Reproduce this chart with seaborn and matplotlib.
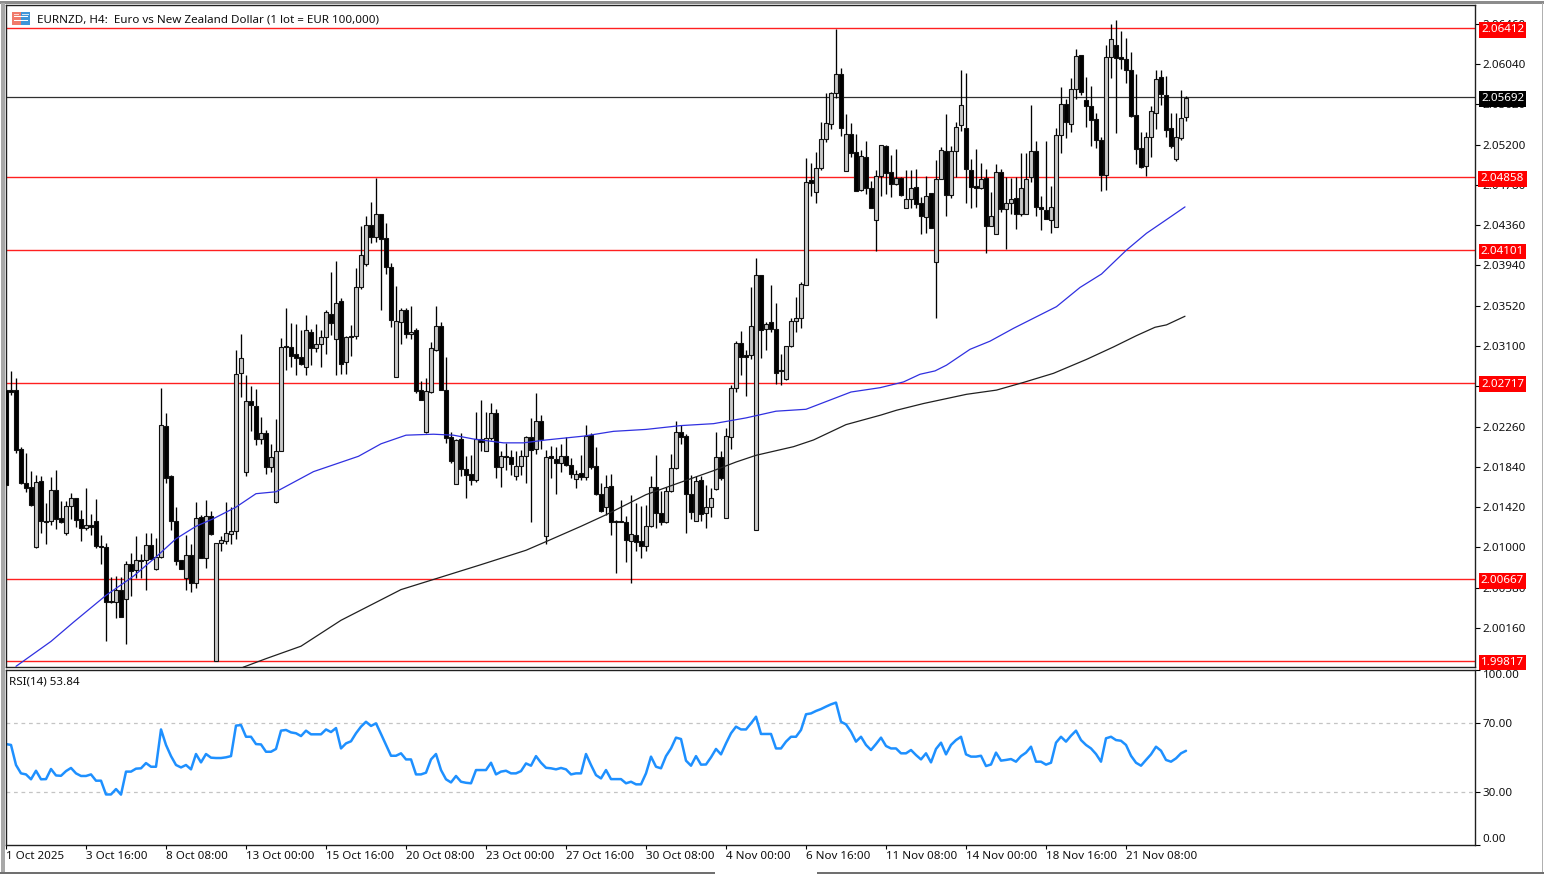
import matplotlib
matplotlib.use('Agg')
import matplotlib.pyplot as plt
from matplotlib.patches import Rectangle
from matplotlib.transforms import ScaledTranslation, blended_transform_factory
import numpy as np
import pandas as pd
import seaborn as sns

# candle values are in pips above 2.00000, one entry per H4 bar
opens = [264,264,264,203,167,163,100,169,127,127,160,131,115,143,151,130,120,123,127,101,100,44,43,56,46,83,76,87,87,102,77,90,
 227,174,127,87,68,92,63,132,89,133,-18,105,107,114,117,282,179,253,247,213,219,184,147,201,310,309,302,298,288,325,308,312,
 319,343,317,357,293,320,320,372,395,436,424,448,423,392,278,335,348,322,327,264,220,262,306,331,264,215,166,213,182,177,170,213,
 201,214,240,184,195,194,174,185,195,215,203,232,112,195,192,188,195,186,171,178,173,217,185,156,142,164,127,127,126,107,113,107,
 101,122,163,136,126,159,183,220,216,156,128,170,136,142,161,194,131,215,266,313,301,301,118,384,328,335,328,285,276,310,336,339,
 374,483,471,496,526,541,574,594,492,531,512,473,507,475,441,487,518,491,479,485,454,463,476,459,444,469,398,484,513,467,513,540,
 537,493,477,475,485,435,427,491,453,459,464,448,448,486,513,455,452,441,434,530,562,541,578,613,566,560,547,525,488,611,624,611,
 609,598,551,516,498,528,553,590,572,537,505,527,549]
highs = [264,284,277,205,198,180,176,174,146,173,181,148,148,157,152,139,162,135,150,113,105,69,70,69,86,94,112,93,115,115,110,266,
 240,175,142,87,113,104,147,134,149,138,105,112,147,142,306,323,280,268,265,236,222,208,234,318,350,334,333,327,342,328,333,327,
 347,387,399,360,320,332,391,435,445,460,485,448,438,397,373,350,350,352,329,274,277,314,352,335,298,220,213,219,195,196,241,254,
 241,251,244,200,209,202,200,202,216,235,261,238,202,206,205,208,215,193,181,196,228,219,205,167,175,177,129,149,133,155,146,143,
 144,174,196,159,163,197,232,228,218,175,174,174,165,162,220,200,225,269,315,326,306,371,402,384,335,374,355,302,310,339,361,377,
 506,501,512,543,574,575,640,600,552,542,531,514,524,482,493,520,520,509,515,486,493,493,495,465,487,470,504,517,552,518,544,598,
 595,505,515,501,495,471,500,495,486,485,486,511,511,561,524,466,524,477,537,580,568,589,620,613,590,581,553,528,624,646,650,638,
 631,617,594,533,533,560,598,598,591,553,553,577,571]
lows = [165,259,198,166,158,143,99,115,104,123,119,125,113,130,121,107,118,113,99,83,2,42,26,27,-1,49,68,68,56,88,76,89,
 167,118,82,77,56,53,58,89,78,113,-18,96,104,104,109,257,174,221,207,208,177,179,146,200,285,288,280,290,280,290,304,288,
 302,321,280,281,281,300,317,369,393,417,418,348,385,330,278,312,318,317,261,254,219,261,305,264,209,188,166,174,151,165,168,201,
 201,212,172,163,181,176,170,175,167,126,197,203,104,172,156,179,185,172,162,170,170,182,155,137,134,113,73,126,85,63,96,89,
 96,121,120,123,125,158,182,208,115,130,127,127,120,132,160,170,131,203,262,280,258,296,118,297,306,325,270,269,275,309,325,329,
 374,466,459,493,523,536,569,529,492,507,472,472,468,454,409,466,468,465,478,466,454,454,454,427,428,433,339,484,446,464,486,534,
 459,454,455,474,407,435,427,450,411,448,432,445,448,481,446,431,442,428,434,511,527,533,567,572,538,518,516,472,473,589,532,599,
 584,549,500,496,487,507,536,561,528,516,503,525,545]
closes = [165,262,202,167,162,144,168,127,126,160,130,126,143,152,129,120,123,121,101,100,43,43,56,27,83,75,87,86,102,88,90,228,
 172,127,86,77,92,63,131,89,133,114,105,108,115,117,281,297,253,248,213,219,184,194,201,309,309,300,297,291,327,308,312,319,
 345,334,355,291,319,319,372,405,436,424,448,422,392,337,336,347,322,325,263,254,263,308,331,264,214,190,212,182,176,170,213,210,
 214,240,184,195,194,187,185,195,215,202,232,213,194,193,188,195,186,177,177,173,216,184,156,138,163,126,126,126,108,114,106,101,
 122,163,136,126,159,183,220,215,156,137,169,135,142,152,194,172,216,266,313,299,299,331,384,327,333,328,282,284,310,336,339,375,
 481,480,496,526,542,574,594,537,531,511,472,508,475,454,487,520,490,479,485,467,463,475,458,445,466,433,484,514,467,513,538,561,
 494,476,475,484,435,445,491,453,459,463,448,475,484,513,455,453,442,455,530,562,543,578,612,575,560,546,525,488,611,630,610,609,
 598,550,515,497,528,555,588,573,535,518,528,548,569]

ma_blue_bars = [2,9,13.5,20,25.5,30,34,38,41.5,46,50,54,59,61.5,70.5,75,80,85.5,89.5,93.5,99.5,103.5,108,115.5,121.5,128,135,141.5,148,154,160,165,169,174.8,179.5,182.8,185.8,188.1,192.8,196.8,201.5,210.1,214.8,219.1,224.1,228.1,231.5,235.8]
ma_blue = [-24,2,22,50,70,90,109,122,130,142,156,158,172,179,195,208,217,218,217,213,209,209,212,216,221,223,227,229,235,242,244,254,262,266.5,272.5,280.5,284,290,306.5,315,328.4,351,371,385,410,427.5,439.6,455]
ma_black_bars = [47.4,52,59,67,79,87,95,104,108,115,120,128,135,141.5,146,150,157.5,161.5,168,175,178.1,183.5,192.1,198.1,203.5,209.5,216.1,221.5,226.1,229.8,232.1,235.8]
ma_black = [-25,-16,-3,24,56,69,82,97,106,122,134,155,168,180,189,196,205,212,228,238,243,250,259.6,264,272,281.5,296,309,320.8,329.5,332,341]

rsi = [57.7,57.2,45.7,40.9,40.3,37.5,42.4,37.5,37.6,43.4,39.7,39.5,42.2,44,40.9,39.4,39.4,40.3,36.7,36.7,28.8,28.8,31.9,28.7,41.9,41.9,43.6,43.8,46.8,44.7,44.7,66.1,
 57.2,50.8,45.7,44.3,45.7,43.2,52,47.2,52,49.9,49.7,49.7,50.1,50.8,68.3,68.6,61.9,61.9,57.7,57.5,53.3,53.3,54.9,65.4,65.8,64.4,63.9,62.3,65.4,63.3,63.3,63.3,
 66.1,64.6,66.9,55.2,58.1,59.3,63.9,67.7,70.5,68.1,69.6,63.5,57.2,51,51,52.4,48.9,48.9,40.3,40.3,41.3,48.9,52,42.8,37.5,35.7,39.4,36.1,35.5,35.2,42.8,42.8,
 42.8,47,40.3,41.9,42.4,40.9,40.9,42.2,46.6,45.3,50.8,47,44.1,43.8,43.2,44,43.2,40.3,40.9,40.9,52,45.7,39.9,38,42.8,37.6,37.6,37.6,35.2,36.1,34.6,34.6,
 40.9,50.5,44.7,43.8,50.8,55.2,61.4,60.6,48.2,45.3,50.8,45.9,46,50.1,54.9,51.8,58.1,63.9,67.7,66.1,66.1,69.6,73.4,63.5,63.5,63.5,55.2,55.2,59.1,61.9,61.9,65.8,
 74.8,75.3,76.7,77.8,79.2,80.5,81.5,70.5,69,64.8,59.1,61.9,57.2,54.3,57.7,61.4,56.6,55.2,55.2,52.4,52.4,54.3,51.4,48.9,52.4,47.2,54.9,58.5,51.8,57.2,60,61.9,
 51.8,50.5,50.5,51,45.1,46,52.8,48.2,48.6,49.1,47.6,50.8,52.8,56.2,47.6,47.6,45.9,47,58.5,61.9,59.1,62.5,65.4,60,57.2,55.2,52,47.6,61,61.9,60,59.6,
 57.2,51,47,45.3,48.6,51.8,56.2,53.9,48.6,47.6,49.5,52.4,53.84]

red_levels = [2.06412, 2.04858, 2.04101, 2.02717, 2.00667, 1.99817]
last_price = 2.05692
price_ticks = [2.06460, 2.06040, 2.05620, 2.05200, 2.04780, 2.04360, 2.03940, 2.03520, 2.03100,
               2.02680, 2.02260, 2.01840, 2.01420, 2.01000, 2.00580, 2.00160]
rsi_ticks = [0, 30, 70, 100]
date_labels = ['1 Oct 2025', '3 Oct 16:00', '8 Oct 08:00', '13 Oct 00:00', '15 Oct 16:00', '20 Oct 08:00',
               '23 Oct 00:00', '27 Oct 16:00', '30 Oct 08:00', '4 Nov 00:00', '6 Nov 16:00', '11 Nov 08:00',
               '14 Nov 00:00', '18 Nov 16:00', '21 Nov 08:00']
title = 'EURNZD, H4:  Euro vs New Zealand Dollar (1 lot = EUR 100,000)'

sns.set_style('white')
plt.rcParams['font.family'] = ['Noto Sans', 'DejaVu Sans']
FS = 8.35
W, H = 1544, 874


def to_price(pips):
    return 2.0 + np.array(pips, dtype=float) / 10000


candles = pd.DataFrame({'open': to_price(opens), 'high': to_price(highs), 'low': to_price(lows), 'close': to_price(closes)})
candles['bar'] = candles.index
candles['up'] = candles['close'] >= candles['open']

fig = plt.figure(figsize=(W / 100, H / 100), dpi=100, facecolor='white')
ax = fig.add_axes([6 / W, 1 - 667 / H, (1475 - 6) / W, (667 - 5) / H])
ax_rsi = fig.add_axes([6 / W, 1 - 845 / H, (1475 - 6) / W, (845 - 670) / H])

# horizontal levels first, candles go on top
for lvl in red_levels:
    ax.axhline(lvl, color='#ff2020', lw=1.0, zorder=1)
ax.axhline(last_price, color='#303030', lw=0.9, zorder=1)

# candles
ax.vlines(candles['bar'], candles['low'], candles['high'], color='black', lw=0.95, zorder=3)
body_bottom = candles[['open', 'close']].min(axis=1)
body_height = (candles['close'] - candles['open']).abs()
colors = ['#c8c8c8' if u else 'black' for u in candles['up']]
ax.bar(candles['bar'], body_height, bottom=body_bottom, width=0.66, color=colors, edgecolor='#101010', linewidth=0.8, zorder=4)

# moving averages
sns.lineplot(x=ma_blue_bars, y=to_price(ma_blue), ax=ax, color='#3030e0', linewidth=0.9, zorder=5, estimator=None)
sns.lineplot(x=ma_black_bars, y=to_price(ma_black), ax=ax, color='#202020', linewidth=0.9, zorder=5, estimator=None)

ax.set_xlim(0, (1475 - 6) / 5)
ax.set_ylim(2.0 - 24.7 / 10000, 2.0 + 665.5 / 10000)
ax.set_xticks([])
ax.yaxis.tick_right()
ax.set_yticks(price_ticks)
ax.set_yticklabels(['%.5f' % p for p in price_ticks], fontsize=FS, color='#101010')
ax.tick_params(axis='y', length=3.5, width=0.8, pad=2, color='black', right=True)
for s in ax.spines.values():
    s.set_color('#202020')
    s.set_linewidth(1.0)

# price tags on the right scale
tag_tr = blended_transform_factory(fig.transFigure, ax.transData)
for lvl, bg in [(p, '#ff0000') for p in red_levels] + [(last_price, 'black')]:
    ax.text(1502.5 / W, lvl, '%.5f' % lvl, transform=tag_tr, ha='center', va='center_baseline', fontsize=FS, color='white',
            clip_on=False, zorder=10, bbox=dict(facecolor=bg, edgecolor='none', boxstyle='square,pad=0.2'))

# RSI panel
ax_rsi.axhline(70, color='#c4c4c4', lw=0.9, ls=(0, (3, 3)), zorder=1)
ax_rsi.axhline(30, color='#c4c4c4', lw=0.9, ls=(0, (3, 3)), zorder=1)
sns.lineplot(x=np.arange(len(rsi)), y=rsi, ax=ax_rsi, color='#1e90ff', linewidth=1.8, estimator=None)
ax_rsi.set_xlim(0, (1475 - 6) / 5)
ax_rsi.set_ylim(-0.2, 100.2)
ax_rsi.yaxis.tick_right()
ax_rsi.set_yticks(rsi_ticks)
ax_rsi.set_yticklabels(['%.2f' % t for t in rsi_ticks], fontsize=FS, color='#101010')
ax_rsi.get_yticklabels()[0].set_verticalalignment('bottom')
top_label = ax_rsi.get_yticklabels()[3]
top_label.set_verticalalignment('top')
top_label.set_transform(top_label.get_transform() + ScaledTranslation(0, -2 / 72, fig.dpi_scale_trans))
ax_rsi.set_xticks(np.arange(len(date_labels)) * 16)
ax_rsi.set_xticklabels(date_labels, fontsize=FS, ha='left', color='#101010')
ax_rsi.tick_params(axis='x', length=3, width=0.8, pad=1.5, color='black', bottom=True)
ax_rsi.tick_params(axis='y', length=3.5, width=0.8, pad=2, color='black', right=True)
for s in ax_rsi.spines.values():
    s.set_color('#202020')
    s.set_linewidth(1.0)

# header text
fig.text(37 / W, 1 - 18.5 / H, title, fontsize=FS, va='center_baseline', color='#101010')
fig.text(9 / W, 1 - 681 / H, 'RSI(14) 53.84', fontsize=FS, va='center_baseline', color='#101010')


def box(x0, y0, x1, y1, color, **kw):
    fig.add_artist(Rectangle((x0 / W, 1 - y1 / H), (x1 - x0) / W, (y1 - y0) / H, transform=fig.transFigure,
                             facecolor=color, edgecolor='none', **kw))


# symbol icon
box(12, 12, 20.5, 25, '#f07a6a')
box(20.5, 12, 30, 25, '#3f95d8')
for yy in (16, 20):
    box(14, yy, 28, yy + 1, 'white')
box(13.5, 13.5, 19, 15, '#fbd5cf')
box(22, 13.5, 28.5, 15, '#cfe4f5')

# window frame
box(0, 1, W, 3.5, '#8c8c8c')
box(1, 3, 4.5, 872, '#a8a8a8')
box(1541.5, 3, 1543, 872, '#b0b0b0')
box(0, 871.5, 715, 873.5, '#707070')
box(817, 871.5, W, 873.5, '#707070')

fig.savefig('out.png', dpi=100, facecolor='white')
